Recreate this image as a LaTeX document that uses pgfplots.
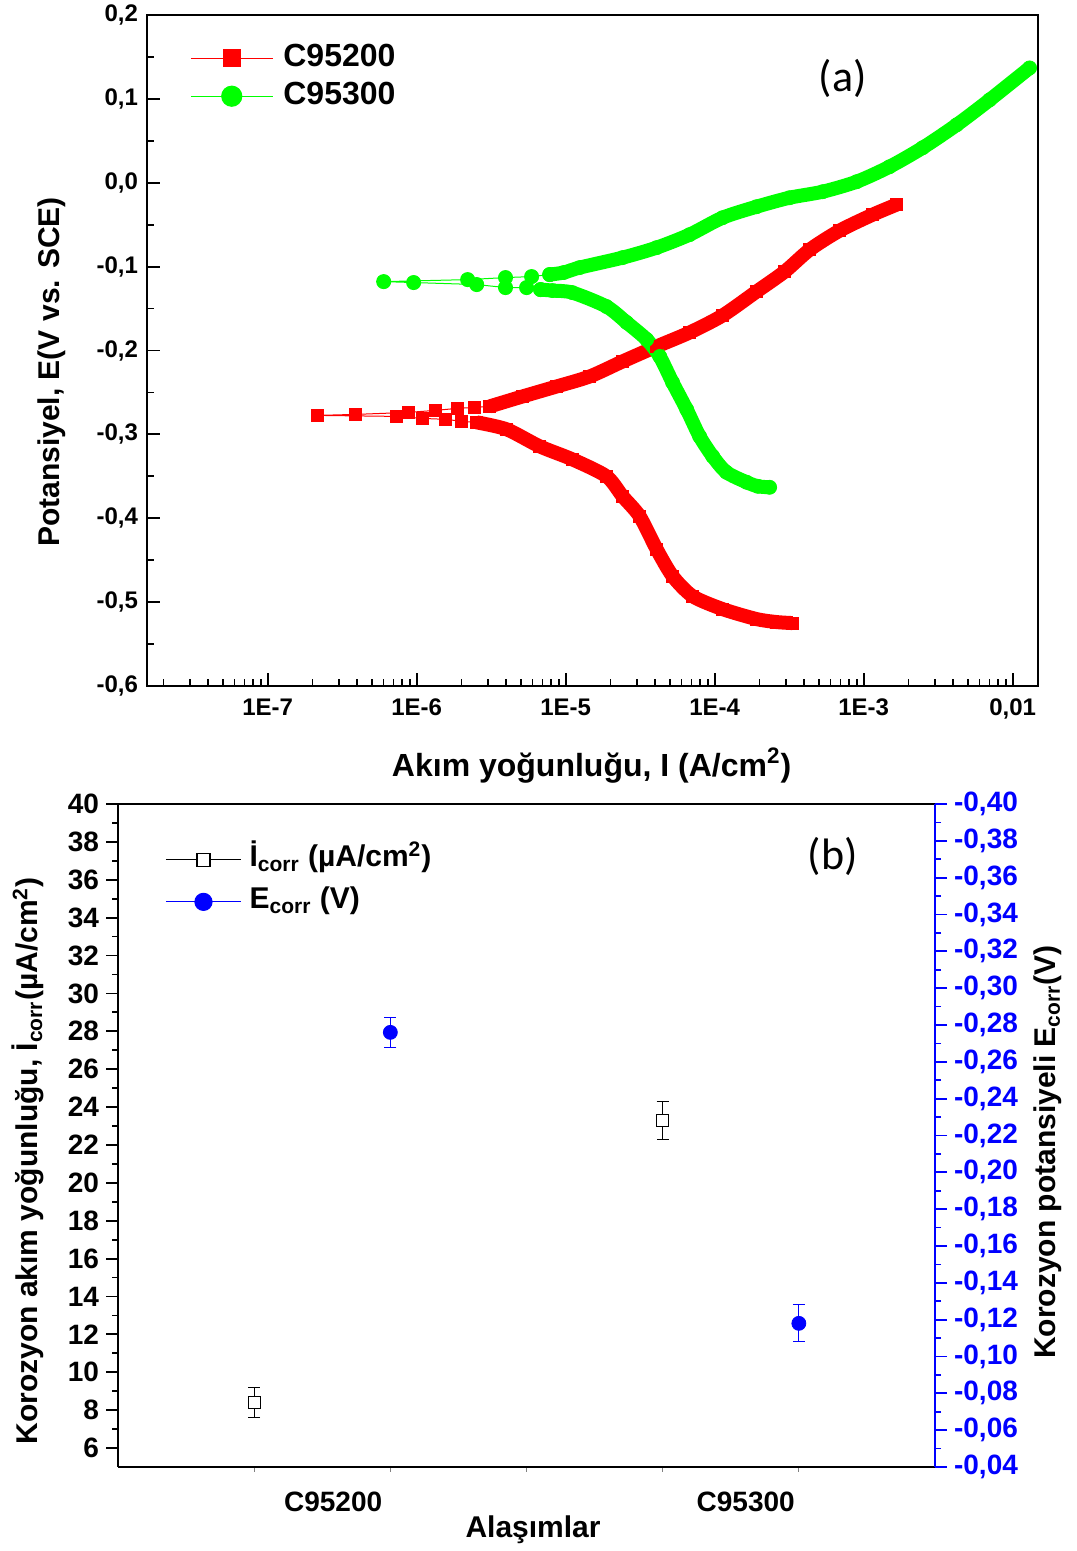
\documentclass[border=0pt]{standalone}
\usepackage{fontspec}
\setmainfont{Liberation Sans}
\newfontfamily\calibri{Carlito}
\usepackage{pgfplots}
\usepackage{pgfplotstable}
\pgfplotsset{compat=1.18}

% ---------- panel (a) data ----------
\pgfplotstableread{
I E
3.33e-4 -0.5250
2.61e-4 -0.5238
1.91e-4 -0.5202
1.13e-4 -0.5083
7.11e-5 -0.4929
5.22e-5 -0.4690
4.08e-5 -0.4369
3.14e-5 -0.3976
2.41e-5 -0.3738
1.88e-5 -0.3500
1.11e-5 -0.3298
6.70e-6 -0.3143
4.02e-6 -0.2940
2.53e-6 -0.2857
}\redcath
\pgfplotstableread{
I E
2.53e-6 -0.2857
2.01e-6 -0.2845
1.57e-6 -0.2821
1.10e-6 -0.2810
7.34e-7 -0.2786
2.17e-7 -0.2774
3.90e-7 -0.2762
8.83e-7 -0.2738
1.34e-6 -0.2714
1.88e-6 -0.2690
2.45e-6 -0.2679
3.09e-6 -0.2667
}\redscat
\pgfplotstableread{
I E
3.09e-6 -0.2667
5.14e-6 -0.2548
8.71e-6 -0.2429
1.45e-5 -0.2310
2.41e-5 -0.2131
4.08e-5 -0.1952
6.79e-5 -0.1786
1.13e-4 -0.1583
1.91e-4 -0.1298
2.95e-4 -0.1060
4.35e-4 -0.0798
6.90e-4 -0.0571
1.15e-3 -0.0381
1.66e-3 -0.0262
}\redanod
\pgfplotstableread{
I E
2.34e-4 -0.3631
1.95e-4 -0.3619
1.64e-4 -0.3571
1.20e-4 -0.3452
9.70e-5 -0.3262
7.93e-5 -0.3024
6.49e-5 -0.2702
5.22e-5 -0.2381
4.28e-5 -0.2071
3.50e-5 -0.1869
2.57e-5 -0.1667
1.88e-5 -0.1476
1.11e-5 -0.1310
8.18e-6 -0.1286
6.79e-6 -0.1274
}\greencath
\pgfplotstableread{
I E
6.79e-6 -0.1274
5.47e-6 -0.1250
3.95e-6 -0.1250
2.53e-6 -0.1214
9.55e-7 -0.1190
6.01e-7 -0.1179
2.20e-6 -0.1155
3.95e-6 -0.1131
5.91e-6 -0.1119
7.82e-6 -0.1095
}\greenscat
\pgfplotstableread{
I E
7.82e-6 -0.1095
9.70e-6 -0.1071
1.24e-5 -0.1012
2.41e-5 -0.0893
4.08e-5 -0.0774
6.79e-5 -0.0619
1.13e-4 -0.0417
1.91e-4 -0.0286
3.18e-4 -0.0179
5.31e-4 -0.0107
8.97e-4 0.0012
1.49e-3 0.0190
2.49e-3 0.0417
4.21e-3 0.0690
7.01e-3 0.0988
1.30e-2 0.1369
}\greenanod

% ---------- panel (b) data ----------
\pgfplotstableread{
x y e
1 8.4 0.8
4 23.3 1.0
}\icorr
\pgfplotstableread{
x y e
2 -0.276 0.008
5 -0.118 0.010
}\ecorr

\begin{document}
\begin{tikzpicture}[font=\bfseries]
% ======================= (a) =======================
\begin{axis}[
  at={(73.5pt,432.5pt)}, anchor=south west, scale only axis,
  width=445.5pt, height=335.5pt,
  xmode=log, xmin=1.55e-8, xmax=0.0148,
  ymin=-0.6, ymax=0.2,
  xtick={1e-7,1e-6,1e-5,1e-4,1e-3,1e-2},
  xticklabels={1E-7,1E-6,1E-5,1E-4,1E-3,{0,01}},
  minor xtick={2e-8,3e-8,4e-8,5e-8,6e-8,7e-8,8e-8,9e-8,
    2e-7,3e-7,4e-7,5e-7,6e-7,7e-7,8e-7,9e-7,
    2e-6,3e-6,4e-6,5e-6,6e-6,7e-6,8e-6,9e-6,
    2e-5,3e-5,4e-5,5e-5,6e-5,7e-5,8e-5,9e-5,
    2e-4,3e-4,4e-4,5e-4,6e-4,7e-4,8e-4,9e-4,
    2e-3,3e-3,4e-3,5e-3,6e-3,7e-3,8e-3,9e-3},
  ytick={-0.6,-0.5,-0.4,-0.3,-0.2,-0.1,0,0.1,0.2},
  yticklabels={{-0,6},{-0,5},{-0,4},{-0,3},{-0,2},{-0,1},{0,0},{0,1},{0,2}},
  minor ytick={-0.55,-0.45,-0.35,-0.25,-0.15,-0.05,0.05,0.15},
  tick align=inside, xtick pos=bottom, ytick pos=left,
  major tick length=6.5pt, minor tick length=3.5pt,
  axis line style={line width=1pt},
  tick style={black, line width=0.9pt},
  tick label style={font=\fontsize{12}{14}\selectfont\bfseries},
  xticklabel style={yshift=-3pt},
  yticklabel style={xshift=-1pt},
  xlabel={Akım yoğunluğu, I (A/cm\textsuperscript{2})},
  ylabel={Potansiyel, E(V vs. SCE)},
  xlabel style={at={(axis description cs:0.499,-0.119)}, anchor=center, font=\fontsize{16}{18}\selectfont\bfseries},
  ylabel style={at={(axis description cs:-0.1066,0.468)}, anchor=center, font=\fontsize{15}{18}\selectfont\bfseries},
  legend image code/.code={
    \draw[#1, mark=none] (0pt,0pt) -- (41pt,0pt);
    \draw[#1] plot coordinates {(20.5pt,0pt)};},
  legend style={at={(axis description cs:0.048,0.963)}, anchor=north west,
    draw=none, fill=none, inner sep=0pt, row sep=1pt,
    nodes={inner sep=1pt, text height=12pt, text depth=4pt},
    font=\fontsize{16}{18}\selectfont\bfseries,
    /tikz/every odd column/.append style={column sep=4pt}},
  legend cell align=left,
  clip=false,
]
% red C95200
\addplot[red, line width=7pt, line join=round, smooth, tension=0.45, forget plot] table {\redcath};
\addplot[red, line width=7pt, line join=round, smooth, tension=0.45, forget plot] table {\redanod};
\addplot[red, only marks, mark=square*, mark size=3pt, forget plot] table {\redcath};
\addplot[red, only marks, mark=square*, mark size=3pt, forget plot] table {\redanod};
\addplot[red, line width=0.5pt, mark=square*, mark size=3pt, mark options={solid}, forget plot] table {\redscat};
% green C95300
\addplot[green, line width=7pt, line join=round, smooth, tension=0.45, forget plot] table {\greencath};
\addplot[green, line width=7pt, line join=round, smooth, tension=0.45, forget plot] table {\greenanod};
\addplot[green, only marks, mark=*, mark size=3.5pt, forget plot] table {\greencath};
\addplot[green, only marks, mark=*, mark size=3.5pt, forget plot] table {\greenanod};
\addplot[green, line width=0.5pt, mark=*, mark size=3.5pt, forget plot] table {\greenscat};
\addlegendimage{red, line width=0.6pt, mark=square*, mark size=4.25pt}
\addlegendentry{C95200}
\addlegendimage{green, line width=0.6pt, mark=*, mark size=5pt}
\addlegendentry{C95300}
\node[font=\calibri\fontsize{22}{24}\selectfont] at (axis description cs:0.781,0.906) {(a)};
\end{axis}

% ======================= (b) gray category ticks =======================
\begin{axis}[
  at={(59pt,42pt)}, anchor=south west, scale only axis,
  width=408.5pt, height=331.5pt,
  xmin=0, xmax=6, ymin=0, ymax=1,
  hide y axis, axis x line*=bottom, x axis line style={draw=none},
  xtick={1,2,3,4,5}, xticklabels={},
  tick align=outside, major tick length=2.5pt,
  xtick style={gray, line width=0.4pt},
]
\end{axis}

% ======================= (b) left axis =======================
\begin{axis}[
  at={(59pt,42pt)}, anchor=south west, scale only axis,
  width=408.5pt, height=331.5pt,
  xmin=0, xmax=6, ymin=5, ymax=40,
  axis y line*=left,
  xtick={1.58,4.61}, xticklabels={C95200,C95300},
  xtick pos=bottom,
  ytick={6,8,...,40}, minor y tick num=1,
  tick align=outside,
  major tick length=6pt, minor tick length=3pt,
  axis line style={line width=1.2pt},
  ytick style={black, line width=0.9pt},
  xtick style={draw=none},
  /pgf/number format/assume math mode=true,
  tick label style={font=\fontsize{14}{16}\selectfont\bfseries},
  xticklabel style={yshift=-3pt},
  ylabel={Korozyon akım yoğunluğu, İ\textsubscript{corr}(µA/cm\textsuperscript{2})},
  ylabel style={at={(axis description cs:-0.110,0.4615)}, anchor=center, font=\fontsize{15}{18}\selectfont\bfseries},
  xlabel={Alaşımlar},
  xlabel style={at={(axis description cs:0.508,-0.095)}, anchor=center, font=\fontsize{15}{18}\selectfont\bfseries},
]
\addplot[black, only marks, mark=square*, mark size=3pt, mark options={fill=white, line width=0.5pt},
  error bars/.cd, y dir=both, y explicit,
  error bar style={black, line width=0.5pt},
  error mark options={black, mark size=3pt, line width=0.5pt, rotate=90}]
  table[x=x, y=y, y error=e] {\icorr};
\end{axis}

% ======================= (b) right axis =======================
\begin{axis}[
  at={(59pt,42pt)}, anchor=south west, scale only axis,
  width=408.5pt, height=331.5pt,
  xmin=0, xmax=6, ymin=-0.40, ymax=-0.04, y dir=reverse,
  axis y line*=right, axis x line=none,
  ytick={-0.40,-0.38,-0.36,-0.34,-0.32,-0.30,-0.28,-0.26,-0.24,-0.22,-0.20,-0.18,-0.16,-0.14,-0.12,-0.10,-0.08,-0.06,-0.04},
  yticklabels={{-0,40},{-0,38},{-0,36},{-0,34},{-0,32},{-0,30},{-0,28},{-0,26},{-0,24},{-0,22},{-0,20},{-0,18},{-0,16},{-0,14},{-0,12},{-0,10},{-0,08},{-0,06},{-0,04}},
  minor y tick num=1,
  tick align=outside,
  major tick length=6pt, minor tick length=3pt,
  y axis line style={blue, line width=1.2pt},
  ytick style={blue, line width=0.9pt},
  yticklabel style={blue, font=\fontsize{14}{16}\selectfont\bfseries},
  ylabel={Korozyon potansiyeli E\textsubscript{corr}(V)},
  ylabel style={at={(axis description cs:1.138,0.475)}, anchor=center, black, font=\fontsize{15}{18}\selectfont\bfseries},
  legend image code/.code={
    \draw[#1, mark=none] (0pt,0pt) -- (37.5pt,0pt);
    \draw[#1] plot coordinates {(18.75pt,0pt)};},
  legend style={at={(axis description cs:0.0575,0.945)}, anchor=north west,
    draw=none, fill=none, inner sep=0pt, row sep=2pt,
    nodes={inner sep=1pt, text height=12pt, text depth=5pt},
    font=\fontsize{15}{18}\selectfont\bfseries,
    /tikz/every odd column/.append style={column sep=3pt}},
  legend cell align=left,
]
\addplot[blue, only marks, mark=*, mark size=3.5pt, forget plot,
  error bars/.cd, y dir=both, y explicit,
  error bar style={blue, line width=0.5pt},
  error mark options={blue, mark size=3pt, line width=0.5pt, rotate=90}]
  table[x=x, y=y, y error=e] {\ecorr};
\addlegendimage{black, line width=0.6pt, mark=square*, mark size=3.25pt, mark options={fill=white}}
\addlegendentry{İ\textsubscript{corr} (µA/cm\textsuperscript{2})}
\addlegendimage{blue, line width=0.6pt, mark=*, mark size=4.25pt}
\addlegendentry{E\textsubscript{corr} (V)}
\node[font=\calibri\fontsize{22}{24}\selectfont] at (axis description cs:0.875,0.921) {(b)};
\end{axis}
\pgfresetboundingbox
\useasboundingbox (0,0) rectangle (538pt,775.5pt);
\end{tikzpicture}
\end{document}
